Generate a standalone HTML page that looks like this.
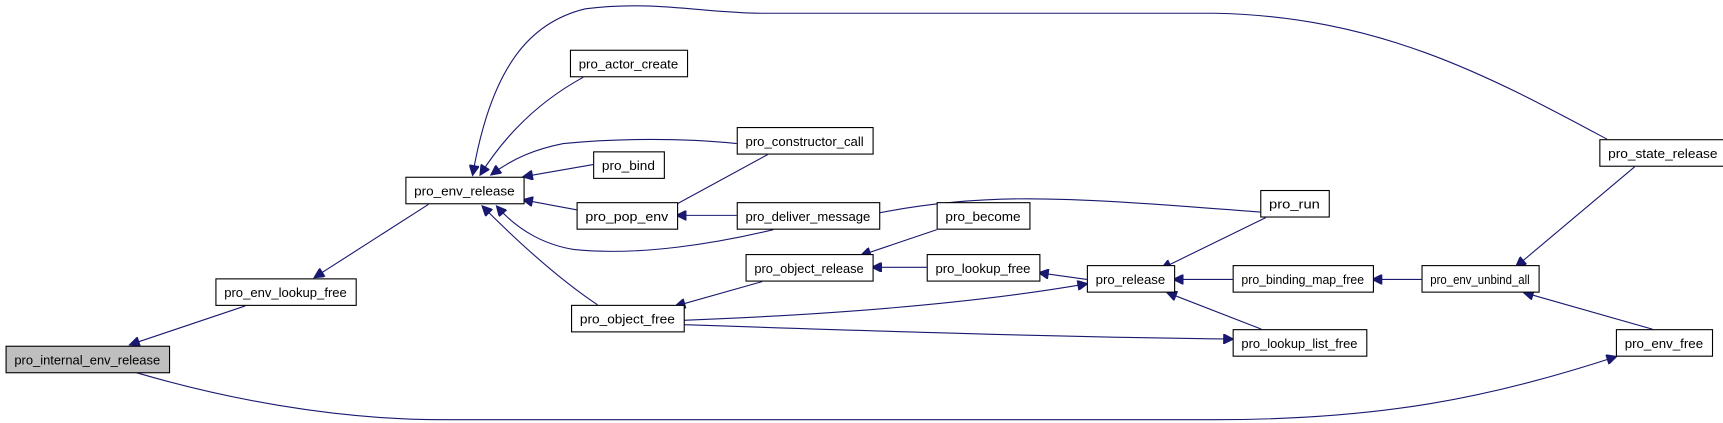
<!DOCTYPE html>
<html><head><meta charset="utf-8"><style>
html,body{margin:0;padding:0;background:#fff;width:1723px;height:423px;overflow:hidden}
svg{display:block}
text{font-family:"Liberation Sans",Arial,sans-serif;font-size:11.5px;fill:#000;text-anchor:start}
.b{fill:#fff;stroke:#000;stroke-width:1}
.e{fill:none;stroke:#191970;stroke-width:1}
</style></head><body>
<svg width="1723" height="423" viewBox="0 0 1560 383" preserveAspectRatio="none">
<defs><marker id="a" viewBox="0 0 10 10" refX="9" refY="5" markerWidth="11" markerHeight="9" orient="auto-start-reverse" markerUnits="userSpaceOnUse"><path d="M0,0L10,5L0,10z" fill="#191970" stroke="#191970"/></marker></defs>
<g class="e">
<path d="M222,277 L118,312" marker-end="url(#a)"/>
<path d="M388,185 L285,251" marker-end="url(#a)"/>
<path d="M1463,323 C1350,360 1250,380 1100,380 L400,380 C300,380 200,360 122,337" marker-start="url(#a)"/>
<path d="M1455,126 C1350,70 1250,15 1100,12 L800,12 L690,12 C640,12 590,0 530,8 C480,20 445,60 428,158" marker-end="url(#a)"/>
<path d="M528,70 C495,88 462,115 435,158" marker-end="url(#a)"/>
<path d="M667,130 C620,125 560,125 510,130 C485,135 465,143 445,158" marker-end="url(#a)"/>
<path d="M537,149 L474,160" marker-end="url(#a)"/>
<path d="M522,190 L474,181" marker-end="url(#a)"/>
<path d="M700,208 C650,220 580,232 520,226 C495,222 470,210 450,187" marker-end="url(#a)"/>
<path d="M541,276 C505,252 470,220 437,187" marker-end="url(#a)"/>
<path d="M695,140 L592,196" marker-end="url(#a)"/>
<path d="M667,195 L613,195" marker-end="url(#a)"/>
<path d="M1141,192 C1060,186 990,180 930,180 C870,180 820,187 776,197" marker-end="url(#a)"/>
<path d="M848,208 L780,231" marker-end="url(#a)"/>
<path d="M839,242 L790,242" marker-end="url(#a)"/>
<path d="M690,255 L612,277" marker-end="url(#a)"/>
<path d="M984,253 L941,247" marker-end="url(#a)"/>
<path d="M619,290 C750,285 880,275 984,257" marker-end="url(#a)"/>
<path d="M619,294 C800,300 950,305 1116,307" marker-end="url(#a)"/>
<path d="M1146,197 L1052,243" marker-end="url(#a)"/>
<path d="M1116,253 L1063,253" marker-end="url(#a)"/>
<path d="M1142,298 L1057,265" marker-end="url(#a)"/>
<path d="M1287,253 L1243,253" marker-end="url(#a)"/>
<path d="M1480,151 L1373,241" marker-end="url(#a)"/>
<path d="M1496,298 L1380,265" marker-end="url(#a)"/>
</g>
<rect x="5.5" y="313.5" width="148" height="24" fill="#bfbfbf" stroke="#000"/><text x="13" y="330" textLength="132" lengthAdjust="spacingAndGlyphs">pro_internal_env_release</text>
<rect class="b" x="195.5" y="252.5" width="127" height="24"/><text x="203" y="269" textLength="111" lengthAdjust="spacingAndGlyphs">pro_env_lookup_free</text>
<rect class="b" x="367.5" y="160.5" width="107" height="24"/><text x="375" y="177" textLength="91" lengthAdjust="spacingAndGlyphs">pro_env_release</text>
<rect class="b" x="516.5" y="45.5" width="106" height="24"/><text x="524" y="62" textLength="90" lengthAdjust="spacingAndGlyphs">pro_actor_create</text>
<rect class="b" x="667.5" y="115.5" width="123" height="24"/><text x="675" y="132" textLength="107" lengthAdjust="spacingAndGlyphs">pro_constructor_call</text>
<rect class="b" x="537.5" y="137.5" width="64" height="24"/><text x="545" y="154" textLength="48" lengthAdjust="spacingAndGlyphs">pro_bind</text>
<rect class="b" x="522.5" y="183.5" width="91" height="24"/><text x="530" y="200" textLength="75" lengthAdjust="spacingAndGlyphs">pro_pop_env</text>
<rect class="b" x="667.5" y="183.5" width="129" height="24"/><text x="675" y="200" textLength="113" lengthAdjust="spacingAndGlyphs">pro_deliver_message</text>
<rect class="b" x="848.5" y="183.5" width="84" height="24"/><text x="856" y="200" textLength="68" lengthAdjust="spacingAndGlyphs">pro_become</text>
<rect class="b" x="675.5" y="230.5" width="115" height="24"/><text x="683" y="247" textLength="99" lengthAdjust="spacingAndGlyphs">pro_object_release</text>
<rect class="b" x="839.5" y="230.5" width="102" height="24"/><text x="847" y="247" textLength="86" lengthAdjust="spacingAndGlyphs">pro_lookup_free</text>
<rect class="b" x="517.5" y="276.5" width="102" height="24"/><text x="525" y="293" textLength="86" lengthAdjust="spacingAndGlyphs">pro_object_free</text>
<rect class="b" x="984.5" y="240.5" width="79" height="24"/><text x="992" y="257" textLength="63" lengthAdjust="spacingAndGlyphs">pro_release</text>
<rect class="b" x="1141.5" y="172.5" width="62" height="24"/><text x="1149" y="189" textLength="46" lengthAdjust="spacingAndGlyphs">pro_run</text>
<rect class="b" x="1116.5" y="240.5" width="127" height="24"/><text x="1124" y="257" textLength="111" lengthAdjust="spacingAndGlyphs">pro_binding_map_free</text>
<rect class="b" x="1116.5" y="298.5" width="121" height="24"/><text x="1124" y="315" textLength="105" lengthAdjust="spacingAndGlyphs">pro_lookup_list_free</text>
<rect class="b" x="1287.5" y="240.5" width="106" height="24"/><text x="1295" y="257" textLength="90" lengthAdjust="spacingAndGlyphs">pro_env_unbind_all</text>
<rect class="b" x="1448.5" y="126.5" width="115" height="24"/><text x="1456" y="143" textLength="99" lengthAdjust="spacingAndGlyphs">pro_state_release</text>
<rect class="b" x="1463.5" y="298.5" width="87" height="24"/><text x="1471" y="315" textLength="71" lengthAdjust="spacingAndGlyphs">pro_env_free</text>
</svg>
</body></html>
